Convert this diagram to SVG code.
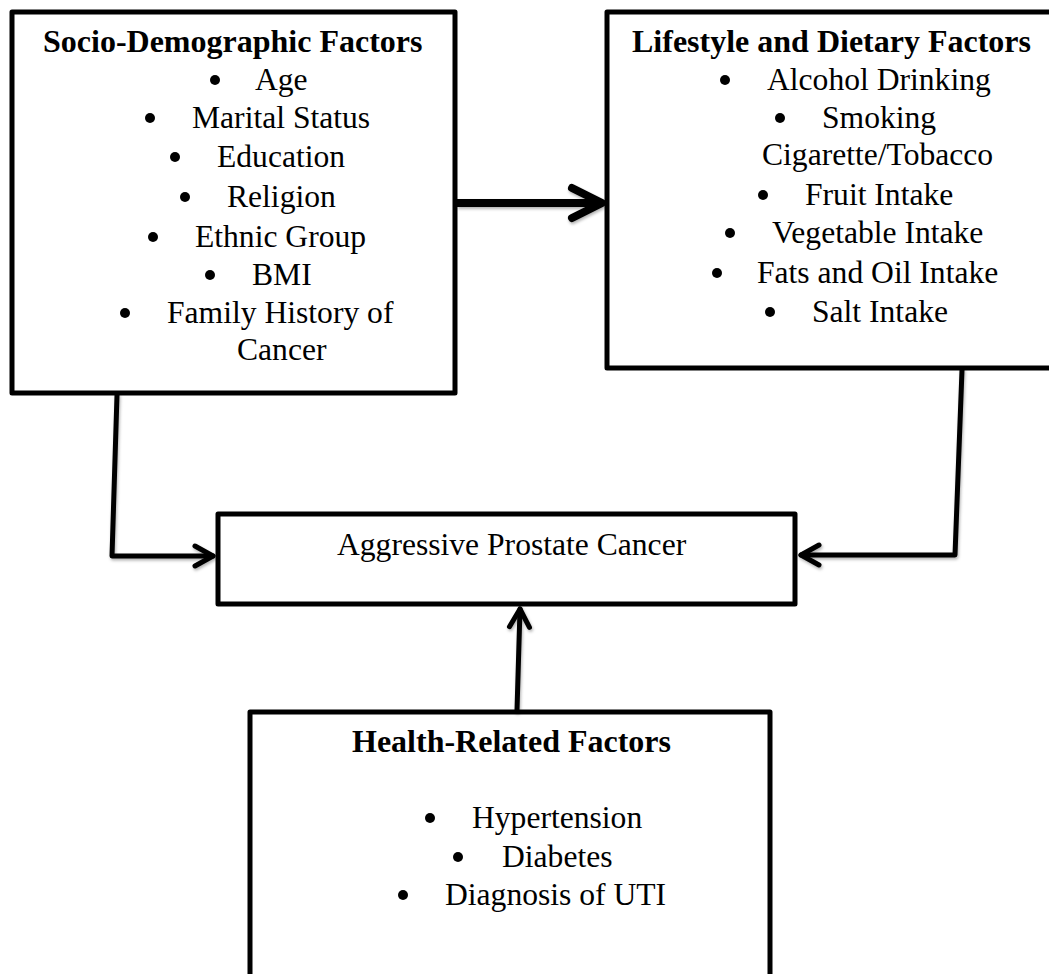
<svg xmlns="http://www.w3.org/2000/svg" width="1049" height="974" viewBox="0 0 1049 974">
<defs>
<style>
.box{fill:#fff;stroke:#000;stroke-width:5;stroke-linejoin:round}
.t{font-family:"Liberation Serif","Times New Roman",serif;font-size:31.6px;fill:#000}
.h{font-family:"Liberation Serif","Times New Roman",serif;font-size:32px;font-weight:bold;fill:#000}
.b{fill:#000}
.con{fill:none;stroke:#000;stroke-width:5;stroke-linejoin:round;stroke-linecap:round}
.thick{fill:none;stroke:#000;stroke-width:8;stroke-linecap:butt}
</style>
<filter id="sh" x="-20%" y="-20%" width="140%" height="140%">
<feDropShadow dx="1" dy="2" stdDeviation="1.5" flood-color="#000" flood-opacity="0.3"/>
</filter>
<marker id="chev" markerUnits="userSpaceOnUse" viewBox="-4 -4 30 30" refX="18" refY="10" markerWidth="30" markerHeight="30" orient="auto" overflow="visible">
<path d="M0,0 L18,10 L0,20" fill="none" stroke="#000" stroke-width="5" stroke-linecap="round" stroke-linejoin="round"/>
</marker>
<marker id="chevBig" markerUnits="userSpaceOnUse" viewBox="-6 -6 44 44" refX="30" refY="15" markerWidth="44" markerHeight="44" orient="auto" overflow="visible">
<path d="M0,0 L30,15 L0,30" fill="none" stroke="#000" stroke-width="8" stroke-linecap="round" stroke-linejoin="round"/>
</marker>
</defs>
<rect width="1049" height="974" fill="#fff"/>

<g id="socio">
<rect class="box" x="12" y="12" width="443" height="381"/>
<text class="h" x="43" y="52">Socio-Demographic Factors</text>
<circle class="b" cx="215" cy="80" r="5"/><text class="t" x="255" y="90">Age</text>
<circle class="b" cx="150" cy="118" r="5"/><text class="t" x="192" y="128">Marital Status</text>
<circle class="b" cx="175" cy="157" r="5"/><text class="t" x="217" y="167">Education</text>
<circle class="b" cx="185" cy="197" r="5"/><text class="t" x="227" y="207">Religion</text>
<circle class="b" cx="153" cy="237" r="5"/><text class="t" x="195" y="247">Ethnic Group</text>
<circle class="b" cx="210" cy="275" r="5"/><text class="t" x="252" y="285">BMI</text>
<circle class="b" cx="125" cy="313" r="5"/><text class="t" x="167" y="323">Family History of</text>
<text class="t" x="237" y="360">Cancer</text>
</g>

<g id="lifestyle">
<rect class="box" x="607" y="12" width="450" height="356"/>
<text class="h" x="632" y="52">Lifestyle and Dietary Factors</text>
<circle class="b" cx="725" cy="80" r="5"/><text class="t" x="767" y="90">Alcohol Drinking</text>
<circle class="b" cx="780" cy="118" r="5"/><text class="t" x="822" y="128">Smoking</text>
<text class="t" x="762" y="165">Cigarette/Tobacco</text>
<circle class="b" cx="763" cy="195" r="5"/><text class="t" x="805" y="205">Fruit Intake</text>
<circle class="b" cx="730" cy="233" r="5"/><text class="t" x="772" y="243">Vegetable Intake</text>
<circle class="b" cx="717" cy="273" r="5"/><text class="t" x="757" y="283">Fats and Oil Intake</text>
<circle class="b" cx="770" cy="312" r="5"/><text class="t" x="812" y="322">Salt Intake</text>
</g>

<g id="outcome">
<rect class="box" x="218" y="514" width="577" height="90"/>
<text class="t" x="337" y="555">Aggressive Prostate Cancer</text>
</g>

<g id="health">
<rect class="box" x="250" y="712" width="520" height="300"/>
<text class="h" x="352" y="752">Health-Related Factors</text>
<circle class="b" cx="430" cy="818" r="5"/><text class="t" x="472" y="828">Hypertension</text>
<circle class="b" cx="458" cy="857" r="5"/><text class="t" x="502" y="867">Diabetes</text>
<circle class="b" cx="403" cy="895" r="5"/><text class="t" x="445" y="905">Diagnosis of UTI</text>
</g>

<g id="connectors" filter="url(#sh)">
<path class="thick" d="M457,203 L602,203" marker-end="url(#chevBig)"/>
<path class="con" d="M117,395 L112,556 L213,556" marker-end="url(#chev)"/>
<path class="con" d="M962,370 L955,555 L801,555" marker-end="url(#chev)"/>
<path class="con" d="M517,710 L520,609" marker-end="url(#chev)"/>
</g>
</svg>
